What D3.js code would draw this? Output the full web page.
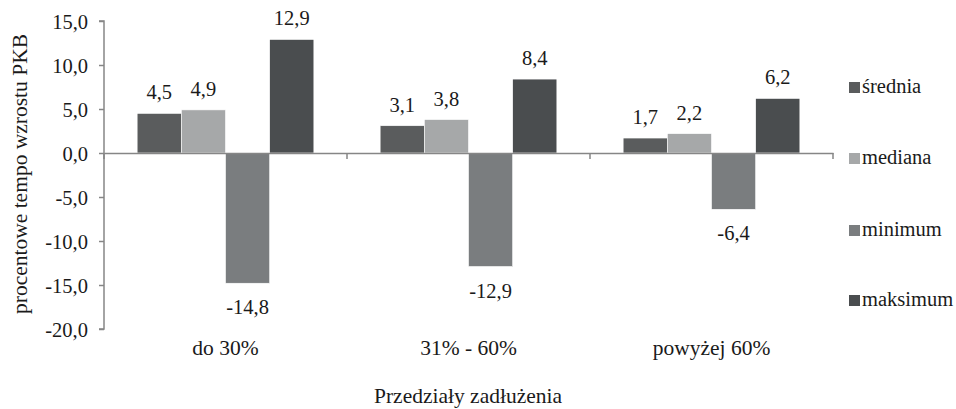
<!DOCTYPE html>
<html><head><meta charset="utf-8">
<script src="https://cdn.jsdelivr.net/npm/d3@7"></script>
<style>body{margin:0;background:#fff}svg{display:block}</style>
</head><body><svg id="c" width="956" height="409" style="font-family:'Liberation Serif',serif"></svg>
<script>
const categories = ["do 30%", "31% - 60%", "powyżej 60%"];
const seriesNames = ["średnia", "mediana", "minimum", "maksimum"];
const srednia = [4.5, 3.1, 1.7];
const mediana = [4.9, 3.8, 2.2];
const minimum = [-14.8, -12.9, -6.4];
const maksimum = [12.9, 8.4, 6.2];
const yTicks = [15, 10, 5, 0, -5, -10, -15, -20];
const colors = ["#5a5c5d", "#a6a8a9", "#7a7d7f", "#4a4d4f"];

(function () {
const FF = "'Liberation Serif', 'Times New Roman', serif";
const TXT = "#1a1a1a";
const seriesValues = [srednia, mediana, minimum, maksimum];
const svg = d3.select("#c");
const pL = 104, pR = 833, pT = 21, pB = 329;
const y = d3.scaleLinear().domain([-20, 15]).range([pB, pT]);
const x0 = d3.scaleBand().domain(categories).range([pL, pR]).paddingInner(0).paddingOuter(0);
// Excel gap width 150%: group width = 4*w + 1.5*w
const bw = x0.bandwidth() / 5.5;
const fmt = v => d3.format(".1f")(v).replace(".", ",").replace("−", "-");
const fs = 20.5, fsT = 21.5;
const label = (sel) => sel.style("font-family", FF).style("fill", TXT);

// y axis
const yAxis = d3.axisLeft(y).tickValues(yTicks).tickSize(5).tickPadding(11).tickFormat(fmt);
const ga = svg.append("g").attr("transform", `translate(${pL},0)`).call(yAxis);
ga.attr("font-family", null);
ga.selectAll("path,line").attr("stroke", "#868686").attr("stroke-width", 1.5);
ga.select(".domain").attr("d", `M-5,${pT}H0V${pB}H-5`);
ga.selectAll("text").attr("dy", "0.38em").style("font-size", fs + "px").call(label);

// bars
categories.forEach((c, ci) => {
  seriesValues.forEach((vals, si) => {
    const v = vals[ci];
    const bx = x0(c) + bw * 0.75 + si * bw;
    svg.append("rect")
      .attr("x", bx).attr("width", bw)
      .attr("y", y(Math.max(0, v))).attr("height", Math.abs(y(v) - y(0)))
      .attr("fill", colors[si]).attr("stroke", "#ffffff").attr("stroke-width", 0.6);
    svg.append("text")
      .attr("x", bx + bw / 2)
      .attr("y", v >= 0 ? y(v) - 14 : y(v) + 31)
      .attr("text-anchor", "middle").style("font-size", fs + "px").call(label)
      .text(fmt(v));
  });
});

// zero line with category ticks
const gx = svg.append("g").attr("transform", `translate(0,${y(0)})`)
  .call(d3.axisBottom(x0).tickSize(0).tickFormat(""));
gx.select(".domain").attr("stroke", "#868686").attr("stroke-width", 1.5);
const bounds = [pL].concat(categories.map(c => x0(c) + x0.bandwidth()));
bounds.forEach(bx => svg.append("line").attr("x1", bx).attr("x2", bx)
  .attr("y1", y(0)).attr("y2", y(0) + 6).attr("stroke", "#868686").attr("stroke-width", 1.5));

// category labels
categories.forEach(c => svg.append("text")
  .attr("x", x0(c) + x0.bandwidth() / 2).attr("y", 355)
  .attr("text-anchor", "middle").style("font-size", fsT + "px").call(label).text(c));

// axis titles
svg.append("text").attr("x", 468).attr("y", 403).attr("text-anchor", "middle")
  .style("font-size", fsT + "px").call(label).text("Przedziały zadłużenia");
svg.append("text").attr("transform", "translate(27,174) rotate(-90)")
  .attr("text-anchor", "middle").style("font-size", fsT + "px").call(label).text("procentowe tempo wzrostu PKB");

// legend
const legY = [87, 158, 230, 300];
seriesNames.forEach((n, i) => {
  svg.append("rect").attr("x", 849).attr("y", legY[i] - 5).attr("width", 11).attr("height", 11).attr("fill", colors[i]);
  svg.append("text").attr("x", 862).attr("y", legY[i] + 6).style("font-size", fs + "px").call(label).text(n);
});
})();
</script></body></html>
